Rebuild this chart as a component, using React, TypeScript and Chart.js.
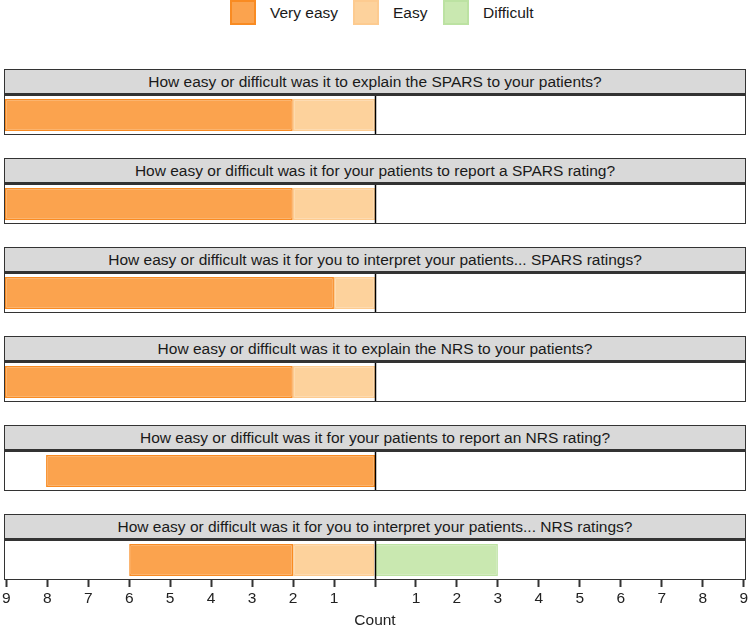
import React, { useEffect, useRef } from "react";
import { Chart, registerables } from "chart.js";

Chart.register(...registerables);

const questions = [
  "How easy or difficult was it to explain the SPARS to your patients?",
  "How easy or difficult was it for your patients to report a SPARS rating?",
  "How easy or difficult was it for you to interpret your patients... SPARS ratings?",
  "How easy or difficult was it to explain the NRS to your patients?",
  "How easy or difficult was it for your patients to report an NRS rating?",
  "How easy or difficult was it for you to interpret your patients... NRS ratings?",
];
const veryEasy = [7, 7, 8, 7, 8, 4];
const easy = [2, 2, 1, 2, 0, 2];
const difficult = [0, 0, 0, 0, 0, 3];
const axisMin = -9;
const axisMax = 9;

const seriesNames = ["Very easy", "Easy", "Difficult"];
const fills = ["rgba(251,163,78,1)", "rgba(253,210,156,1)", "rgba(201,232,176,1)"];
const borders = ["#F98B22", "#FDCB90", "#BCE2A2"];

const FONT = "'Liberation Sans', Arial, Helvetica, sans-serif";
const FS = 15.5;
const TOP0 = 69;
const STEP = 89;
const STRIP_H = 27;
const PLOT_H = 38;

const zeroLine = {
  id: "zeroLine",
  afterDatasetsDraw(chart: any) {
    const { ctx, chartArea } = chart;
    const x = Math.round(chart.scales.x.getPixelForValue(0)) + 0.5;
    ctx.save();
    ctx.strokeStyle = "#000";
    ctx.lineWidth = 1.5;
    ctx.beginPath();
    ctx.moveTo(x, chartArea.top);
    ctx.lineTo(x, chartArea.bottom);
    ctx.stroke();
    ctx.restore();
  },
};

function Panel({ idx, last }: { idx: number; last: boolean }) {
  const ref = useRef<HTMLCanvasElement>(null);
  useEffect(() => {
    const canvas = ref.current!;
    const datasets = [
      {
        label: seriesNames[1],
        data: [-easy[idx]],
        backgroundColor: fills[1],
        borderColor: borders[1],
        borderWidth: 1.5,
        borderSkipped: false,
        stack: "s",
      },
      {
        label: seriesNames[0],
        data: [-veryEasy[idx]],
        backgroundColor: fills[0],
        borderColor: borders[0],
        borderWidth: 1.5,
        borderSkipped: false,
        stack: "s",
      },
      {
        label: seriesNames[2],
        data: [difficult[idx]],
        backgroundColor: fills[2],
        borderColor: borders[2],
        borderWidth: 1.5,
        borderSkipped: false,
        stack: "s",
      },
    ];
    const xScale: any = {
      type: "linear",
      stacked: true,
      min: axisMin,
      max: axisMax,
      display: last,
      border: { display: false },
      grid: {
        drawOnChartArea: false,
        drawTicks: true,
        tickLength: 8,
        tickColor: "#333",
        tickWidth: 2,
      },
      ticks: {
        stepSize: 1,
        autoSkip: false,
        maxRotation: 0,
        padding: 2,
        color: "#222",
        font: { family: FONT, size: FS },
        callback: (v: any) => (Number(v) === 0 ? "" : String(Math.abs(Number(v)))),
      },
      title: {
        display: true,
        text: "Count",
        color: "#222",
        font: { family: FONT, size: FS },
        padding: { top: 0, bottom: -4 },
      },
    };
    if (last) {
      xScale.afterFit = (scale: any) => {
        scale.height = 47;
      };
    }
    const chart = new Chart(canvas, {
      type: "bar",
      data: { labels: [questions[idx]], datasets },
      plugins: [zeroLine],
      options: {
        indexAxis: "y",
        animation: false,
        responsive: false,
        maintainAspectRatio: false,
        events: [],
        layout: { padding: { left: 5, right: 5, top: 0, bottom: 0 } },
        datasets: { bar: { barPercentage: 0.9, categoryPercentage: 0.93 } },
        plugins: { legend: { display: false }, tooltip: { enabled: false } },
        scales: {
          y: { display: false, stacked: true },
          x: xScale,
        },
      },
    });
    return () => chart.destroy();
  }, [idx, last]);

  const T = TOP0 + STEP * idx;
  const canvasH = last ? 626 - (T + STRIP_H) : PLOT_H;
  return (
    <>
      <div
        style={{
          position: "absolute",
          left: 4,
          top: T,
          width: 742,
          height: STRIP_H,
          boxSizing: "border-box",
          background: "#D9D9D9",
          borderTop: "1.5px solid #333",
          borderLeft: "1.5px solid #333",
          borderRight: "1.5px solid #333",
          borderBottom: "3px solid #333",
          display: "flex",
          alignItems: "center",
          justifyContent: "center",
          fontFamily: FONT,
          fontSize: FS,
          color: "#1a1a1a",
          whiteSpace: "nowrap",
        }}
      >
        {questions[idx]}
      </div>
      <canvas
        ref={ref}
        width={750}
        height={canvasH}
        style={{ position: "absolute", left: 0, top: T + STRIP_H, width: 750, height: canvasH }}
      />
      <div
        style={{
          position: "absolute",
          left: 4,
          top: T + STRIP_H - 1,
          width: 742,
          height: PLOT_H + 2,
          boxSizing: "border-box",
          border: "1.5px solid #333",
          borderTop: "none",
          pointerEvents: "none",
        }}
      />
    </>
  );
}

function Legend() {
  const items = [
    { name: seriesNames[0], box: 230, text: 270 },
    { name: seriesNames[1], box: 353, text: 393 },
    { name: seriesNames[2], box: 443, text: 483 },
  ];
  return (
    <>
      {items.map((it, i) => (
        <React.Fragment key={it.name}>
          <div
            style={{
              position: "absolute",
              left: it.box,
              top: 0,
              width: 26,
              height: 25,
              boxSizing: "border-box",
              background: fills[i],
              border: `2px solid ${borders[i]}`,
            }}
          />
          <div
            style={{
              position: "absolute",
              left: it.text,
              top: 4,
              fontFamily: FONT,
              fontSize: FS,
              color: "#1a1a1a",
              lineHeight: "18px",
              whiteSpace: "nowrap",
            }}
          >
            {it.name}
          </div>
        </React.Fragment>
      ))}
    </>
  );
}

export default function App() {
  return (
    <div
      style={{
        position: "fixed",
        left: 0,
        top: 0,
        width: 750,
        height: 626,
        background: "#fff",
        overflow: "hidden",
      }}
    >
      <Legend />
      {questions.map((q, i) => (
        <Panel key={q} idx={i} last={i === questions.length - 1} />
      ))}
    </div>
  );
}
